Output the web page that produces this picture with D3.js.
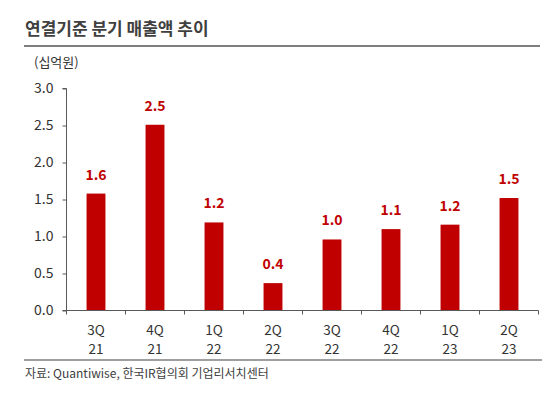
<!DOCTYPE html>
<html>
<head>
<meta charset="utf-8">
<script src="https://cdn.jsdelivr.net/npm/d3@7"></script>
<style>
body { margin: 0; background: #fff; }
text { font-family: "Noto Sans CJK KR", "Noto Sans", sans-serif; }
</style>
</head>
<body>
<svg id="svg"></svg>
<script>
var width = 552, height = 398;

var quarters = ["3Q", "4Q", "1Q", "2Q", "3Q", "4Q", "1Q", "2Q"];
var years = ["21", "21", "22", "22", "22", "22", "23", "23"];
var sales = [1.58, 2.51, 1.19, 0.37, 0.96, 1.10, 1.16, 1.52];
var yTicks = [0, 0.5, 1.0, 1.5, 2.0, 2.5, 3.0];

var svg = d3.select("#svg")
	.attr("width", width)
	.attr("height", height);

var idx = d3.range(sales.length);

var x = d3.scaleBand()
	.domain(idx)
	.range([66.5, 538.5])
	.paddingInner(0.68)
	.paddingOuter(0.34);

var y = d3.scaleLinear()
	.domain([0, 3])
	.range([310.5, 88.5]);

// title
svg.append("text")
	.attr("x", 25)
	.attr("y", 35)
	.attr("font-size", "17px")
	.attr("font-weight", "bold")
	.attr("fill", "#404040")
	.text("연결기준 분기 매출액 추이");

svg.append("line")
	.attr("x1", 24).attr("x2", 540)
	.attr("y1", 46).attr("y2", 46)
	.attr("stroke", "#7f7f7f")
	.attr("stroke-width", 2);

svg.append("text")
	.attr("x", 34)
	.attr("y", 67)
	.attr("font-size", "13px")
	.attr("fill", "#333")
	.text("(십억원)");

// bars
svg.selectAll("rect.bar")
	.data(idx)
	.enter()
	.append("rect")
	.attr("class", "bar")
	.attr("x", function(i) { return x(i); })
	.attr("y", function(i) { return y(sales[i]); })
	.attr("width", x.bandwidth())
	.attr("height", function(i) { return y(0) - y(sales[i]); })
	.attr("fill", "#c00000");

svg.selectAll("text.val")
	.data(idx)
	.enter()
	.append("text")
	.attr("class", "val")
	.attr("x", function(i) { return x(i) + x.bandwidth() / 2; })
	.attr("y", function(i) { return y(sales[i]) - 14; })
	.attr("text-anchor", "middle")
	.attr("font-size", "14px")
	.attr("font-weight", "bold")
	.attr("fill", "#c00000")
	.text(function(i) { return d3.format(".1f")(sales[i]); });

// y axis
var yAxis = d3.axisLeft(y)
	.tickValues(yTicks)
	.tickSize(4)
	.tickFormat(d3.format(".1f"));

var gy = svg.append("g")
	.attr("transform", "translate(66.5,0)")
	.call(yAxis);
gy.select(".domain").attr("stroke", "#595959").attr("d", "M-4,88.5H0V310.5");
gy.selectAll(".tick line").attr("stroke", "#595959");
gy.selectAll(".tick text")
	.attr("x", -13)
	.attr("font-size", "14px")
	.attr("fill", "#333")
	.style("font-family", "'Noto Sans CJK KR', sans-serif");

// x axis
var gx = svg.append("g")
	.attr("transform", "translate(0,310.5)");
gx.append("line")
	.attr("x1", 62.5).attr("x2", 538.5)
	.attr("stroke", "#595959");
gx.selectAll("line.tk")
	.data(d3.range(sales.length + 1))
	.enter()
	.append("line")
	.attr("class", "tk")
	.attr("x1", function(i) { return 66.5 + i * x.step(); })
	.attr("x2", function(i) { return 66.5 + i * x.step(); })
	.attr("y1", 0).attr("y2", 4)
	.attr("stroke", "#595959");

gx.selectAll("text.xq")
	.data(idx)
	.enter()
	.append("text")
	.attr("class", "xq")
	.attr("x", function(i) { return x(i) + x.bandwidth() / 2; })
	.attr("y", 24)
	.attr("text-anchor", "middle")
	.attr("font-size", "13.5px")
	.attr("fill", "#333")
	.text(function(i) { return quarters[i]; });

gx.selectAll("text.xy")
	.data(idx)
	.enter()
	.append("text")
	.attr("class", "xy")
	.attr("x", function(i) { return x(i) + x.bandwidth() / 2; })
	.attr("y", 43)
	.attr("text-anchor", "middle")
	.attr("font-size", "13.5px")
	.attr("fill", "#333")
	.text(function(i) { return years[i]; });

// source
svg.append("line")
	.attr("x1", 24).attr("x2", 542)
	.attr("y1", 360).attr("y2", 360)
	.attr("stroke", "#7f7f7f")
	.attr("stroke-width", 1.5);

svg.append("text")
	.attr("x", 25)
	.attr("y", 378)
	.attr("font-size", "12px")
	.attr("fill", "#404040")
	.text("자료: Quantiwise, 한국IR협의회 기업리서치센터");
</script>
</body>
</html>
